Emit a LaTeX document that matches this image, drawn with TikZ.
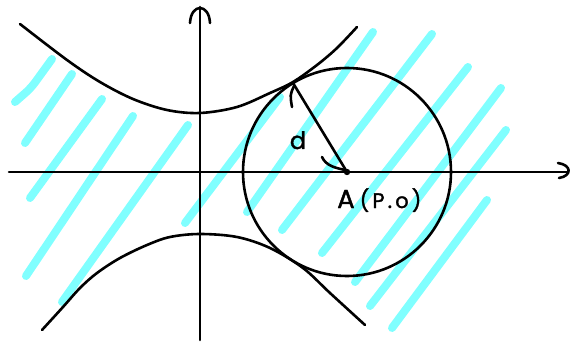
\documentclass[tikz,border=0pt]{standalone}
\usepackage{fontspec}
\setmainfont{Poppins}
\definecolor{hatch}{RGB}{128,255,255}
\begin{document}
\begin{tikzpicture}[x=1pt,y=-1pt,
  ink/.style={line width=2.6pt, line cap=round, line join=round},
  hatchline/.style={hatch, line width=8pt, line cap=round, line join=round},
  lbl/.style={inner sep=0pt, anchor=base}]
\useasboundingbox (0,0) rectangle (576,342);
% hatching
\draw[hatchline, rounded corners=7pt] (15,102) -- (31,88) -- (52,59);
\draw[hatchline] (25,143) -- (72,74);
\draw[hatchline] (30,198) -- (102,99);
\draw[hatchline] (26,276) -- (133,116);
\draw[hatchline] (62,302) -- (188,125);
\draw[hatchline] (185,223) -- (280,97);
\draw[hatchline] (247,212) -- (373,32);
\draw[hatchline] (282,230) -- (432,34);
\draw[hatchline] (322,253) -- (468,67);
\draw[hatchline] (355,282) -- (501,88);
\draw[hatchline] (370,306) -- (506,130);
\draw[hatchline] (392,328) -- (487,200);
% axes
\coordinate (xl) at (9,172);
\coordinate (xr) at (567,172);
\coordinate (yb) at (200,340);
\coordinate (yt) at (200,7);
\draw[ink] (xl) -- (xr);
\draw[ink] (yb) -- (yt);
\draw[ink] (190,23) .. controls (191,3) and (209,3) .. (210,23);
\draw[ink] (558,163) .. controls (572,165) and (572,176) .. (559,178);
% hyperbola
\draw[ink] plot[smooth, tension=0.55] coordinates {(20,24) (67,60) (100,82) (133,99) (167,110) (200,113) (237,107) (270,93) (293,82) (317,65) (337,48) (357,27)};
\draw[ink] plot[smooth, tension=0.55] coordinates {(42,330) (63,307) (80,288) (97,273) (120,258) (147,245) (170,237) (200,234) (237,237) (270,248) (303,268) (330,293) (365,325)};
% circle
\coordinate (A) at (347,172);
\coordinate (T) at (293,83);
\draw[ink] (A) circle (104);
\draw[ink] (T) -- (A);
\fill (A) circle (3.2);
% marks
\draw[ink] (294,86) .. controls (290,95) .. (292,107);
\draw[ink] (322,157) .. controls (326,166) and (336,168) .. (345,170);
% labels
\node[lbl, font=\fontsize{24}{24}\selectfont\addfontfeature{FakeBold=1.5}] (dl) at (298,149) {d};
\node[lbl, anchor=base west] (al) at (337,208) {\fontsize{26}{26}\selectfont\addfontfeature{FakeBold=1.5}A\hspace{5pt}\fontsize{21}{21}\selectfont\addfontfeature{LetterSpace=15,FakeBold=1.5}(P.o)};
\end{tikzpicture}
\end{document}
